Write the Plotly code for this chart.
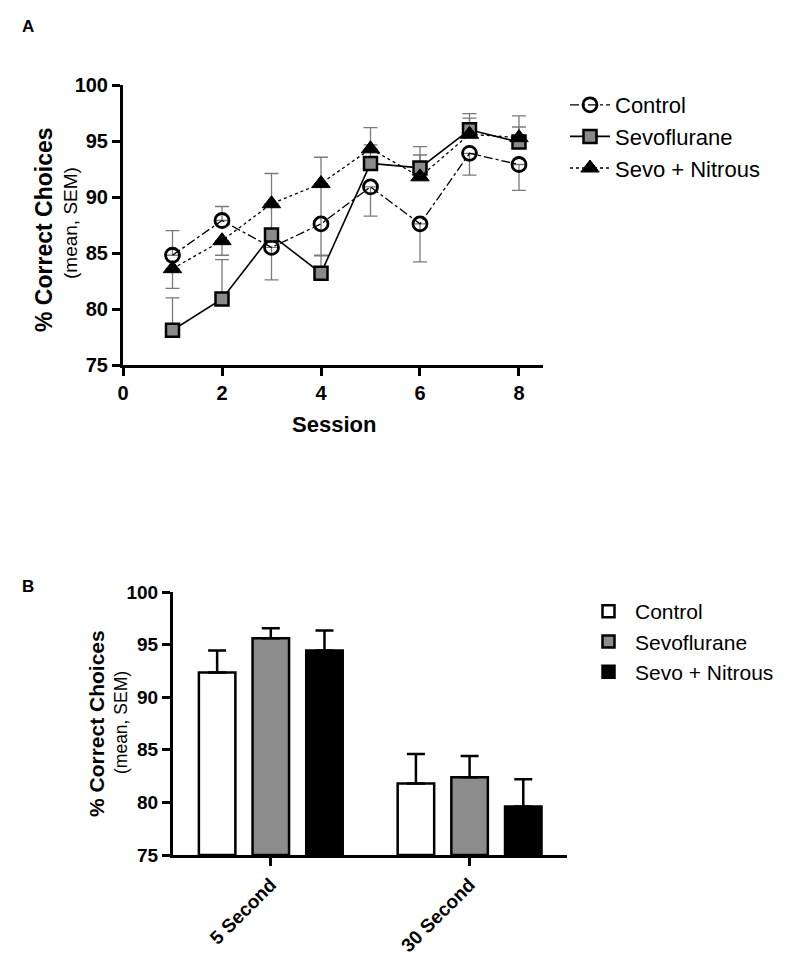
import plotly.graph_objects as go

# ---------------- Data ----------------
sessions = [1, 2, 3, 4, 5, 6, 7, 8]
control_mean = [84.8, 87.9, 85.5, 87.6, 90.9, 87.6, 93.9, 92.9]
control_sem_up = [2.2, 1.25, 0, 3.6, 0, 0, 0, 0]
control_sem_down = [0, 0, 2.9, 2.85, 2.6, 3.4, 1.95, 2.3]

sevo_mean = [78.1, 80.9, 86.6, 83.2, 93.0, 92.6, 96.0, 94.9]
sevo_sem_up = [2.9, 3.5, 2.8, 1.6, 1.65, 1.9, 1.45, 2.35]
sevo_sem_down = [0, 0, 0, 0, 0, 0, 0, 0]

nitrous_mean = [83.6, 86.1, 89.4, 91.2, 94.3, 91.8, 95.6, 95.3]
nitrous_sem_up = [0, 0, 2.7, 2.35, 1.9, 1.95, 1.45, 0.95]
nitrous_sem_down = [1.75, 1.3, 0, 0, 0, 0, 0, 0]

delays = ["5 Second", "30 Second"]
bar_control = [92.35, 81.8]
bar_control_sem = [2.1, 2.8]
bar_sevo = [95.6, 82.4]
bar_sevo_sem = [0.95, 2.0]
bar_nitrous = [94.45, 79.6]
bar_nitrous_sem = [1.9, 2.6]

group_names = ["Control", "Sevoflurane", "Sevo + Nitrous"]
session_ticks = [0, 2, 4, 6, 8]
y_ticks = [75, 80, 85, 90, 95, 100]

FONT = "Liberation Sans, Arial, sans-serif"
OFF = 8                      # page body margin
W, H = 800 - OFF, 969 - OFF  # figure fits inside the window
GRAY = "#8a8a8a"
ERR_GRAY = "#7a7a7a"


def px(x):
    return (x - OFF) / W


def py(y):
    return 1 - (y - OFF) / H


fig = go.Figure()

# ---- Panel A error bars (drawn first, underneath markers) ----
series_a = [
    ("Control", control_mean, control_sem_up, control_sem_down),
    ("Sevoflurane", sevo_mean, sevo_sem_up, sevo_sem_down),
    ("Sevo + Nitrous", nitrous_mean, nitrous_sem_up, nitrous_sem_down),
]
for name, m, up, dn in series_a:
    fig.add_trace(go.Scatter(
        x=sessions, y=m, mode="markers",
        marker=dict(size=1, color="rgba(0,0,0,0)"),
        error_y=dict(type="data", symmetric=False, array=up, arrayminus=dn,
                     color=ERR_GRAY, thickness=1.3, width=7),
        showlegend=False, hoverinfo="skip", xaxis="x", yaxis="y",
    ))

# ---- Panel A lines + markers ----
fig.add_trace(go.Scatter(
    x=sessions, y=control_mean, mode="lines+markers", name=group_names[0],
    line=dict(color="black", width=1.3, dash="dashdot"),
    marker=dict(symbol="circle-open", size=14, color="black", line=dict(width=2.8, color="black")),
    xaxis="x", yaxis="y", legend="legend",
))
fig.add_trace(go.Scatter(
    x=sessions, y=sevo_mean, mode="lines+markers", name=group_names[1],
    line=dict(color="black", width=1.6),
    marker=dict(symbol="square", size=13, color=GRAY, line=dict(width=2.5, color="black")),
    xaxis="x", yaxis="y", legend="legend",
))
fig.add_trace(go.Scatter(
    x=sessions, y=nitrous_mean, mode="lines+markers", name=group_names[2],
    line=dict(color="black", width=1.3, dash="dot"),
    marker=dict(symbol="triangle-up", size=16, color="black", line=dict(width=1, color="black")),
    xaxis="x", yaxis="y", legend="legend",
))

# ---- Panel B bars ----
bar_fills = ["white", "#8c8c8c", "black"]
for name, vals, sem, col in zip(group_names,
                                [bar_control, bar_sevo, bar_nitrous],
                                [bar_control_sem, bar_sevo_sem, bar_nitrous_sem],
                                bar_fills):
    fig.add_trace(go.Bar(
        x=delays, y=[v - 75 for v in vals], base=75, name=name,
        marker=dict(color=col, line=dict(color="black", width=2.5)),
        error_y=dict(type="data", symmetric=False, array=sem,
                     arrayminus=[0] * len(sem), color="black", thickness=2.5, width=9),
        xaxis="x2", yaxis="y2", legend="legend2",
    ))

axis_common = dict(
    showline=True, linecolor="black", linewidth=3,
    ticks="outside", ticklen=8, tickwidth=3, tickcolor="black",
    showgrid=False, zeroline=False, automargin=False,
)

fig.update_layout(
    width=W, height=H, autosize=False,
    margin=dict(l=0, r=0, t=0, b=0, pad=0, autoexpand=False),
    paper_bgcolor="white", plot_bgcolor="white",
    font=dict(family=FONT, color="black"),
    barmode="group", bargap=0.19, bargroupgap=0.32,
    xaxis=dict(domain=[px(123), px(543)], range=[0, 8.485], anchor="y",
               tickvals=session_ticks,
               tickfont=dict(size=20, family=FONT, weight="bold"), **axis_common),
    yaxis=dict(domain=[py(365), py(85)], range=[75, 100], anchor="x",
               tickvals=y_ticks,
               tickfont=dict(size=20, family=FONT, weight="bold"), **axis_common),
    xaxis2=dict(domain=[px(173), px(567)], range=[-0.492, 1.49], anchor="y2",
                tickangle=-45,
                tickfont=dict(size=19, family=FONT, weight="bold"), **axis_common),
    yaxis2=dict(domain=[py(855), py(592)], range=[75, 100], anchor="x2",
                tickvals=y_ticks,
                tickfont=dict(size=19, family=FONT, weight="bold"), **axis_common),
    legend=dict(x=px(565), y=py(84), xanchor="left", yanchor="top",
                font=dict(size=22, family=FONT), bgcolor="rgba(0,0,0,0)",
                tracegroupgap=0, itemwidth=40),
    legend2=dict(x=px(582), y=py(591), xanchor="left", yanchor="top",
                 font=dict(size=21, family=FONT), bgcolor="rgba(0,0,0,0)",
                 itemwidth=43),
)

annotations = [
    dict(text="<b>A</b>", x=px(28), y=py(27), font=dict(size=17)),
    dict(text="<b>B</b>", x=px(28), y=py(586), font=dict(size=17)),
    dict(text="<b>% Correct Choices</b>", x=px(44), y=py(230), textangle=-90, font=dict(size=23)),
    dict(text="(mean, SEM)", x=px(70), y=py(223), textangle=-90, font=dict(size=19)),
    dict(text="<b>Session</b>", x=px(334), y=py(424), font=dict(size=22)),
    dict(text="<b>% Correct Choices</b>", x=px(96), y=py(724), textangle=-90, font=dict(size=21)),
    dict(text="(mean, SEM)", x=px(121), y=py(723), textangle=-90, font=dict(size=17.5)),
]
for a in annotations:
    a.update(xref="paper", yref="paper", showarrow=False, xanchor="center", yanchor="middle")
    a["font"].update(family=FONT, color="black")
fig.update_layout(annotations=annotations)

fig.write_html("out.html")
